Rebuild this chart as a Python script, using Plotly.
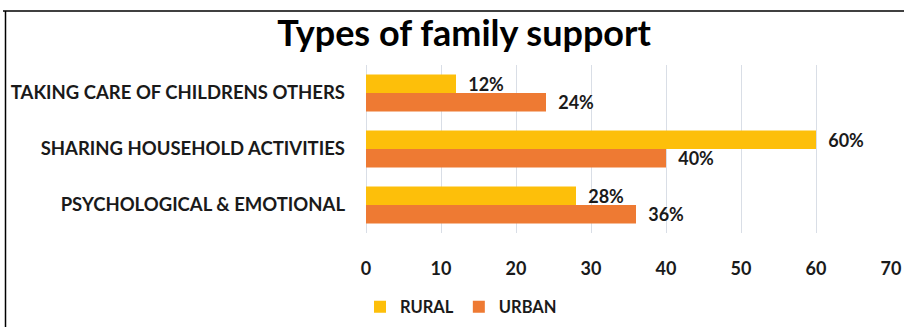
import plotly.graph_objects as go

categories = ["TAKING CARE OF CHILDRENS OTHERS", "SHARING HOUSEHOLD ACTIVITIES", "PSYCHOLOGICAL & EMOTIONAL"]
rural = [12, 60, 28]
urban = [24, 40, 36]
x_ticks = [0, 10, 20, 30, 40, 50, 60, 70]

FONT = "Lato"
W, H = 904, 327
L, R, T, B = 366, 13, 65, 94
pw, ph = W - L - R, H - T - B

def px_x(x):
    return (x - L) / pw

def px_y(y):
    return 1 - (y - T) / ph

label_font = dict(family=FONT, size=18, color="#1a1a1a")
pad = "\u00a0\u00a0"

fig = go.Figure()
fig.add_trace(go.Bar(
    y=categories, x=rural, name="<b>RURAL</b>", orientation="h",
    marker=dict(color="#FDBF0A", line=dict(width=0)),
    texttemplate=pad + "<b>%{x}%</b>", textposition="outside", constraintext="none",
    textfont=label_font, cliponaxis=False,
))
fig.add_trace(go.Bar(
    y=categories, x=urban, name="<b>URBAN</b>", orientation="h",
    marker=dict(color="#EE7A33", line=dict(width=0)),
    texttemplate=pad + "<b>%{x}%</b>", textposition="outside", constraintext="none",
    textfont=label_font, cliponaxis=False,
))

fig.update_layout(
    width=W, height=H,
    margin=dict(l=L, r=R, t=T, b=B, pad=0, autoexpand=False),
    paper_bgcolor="white", plot_bgcolor="white",
    barmode="group", bargap=0.34, bargroupgap=0,
    font=dict(family=FONT, color="#1a1a1a"),
    title=dict(text="<b>Types of family support</b>", xref="container", x=464 / W, xanchor="center",
               yref="container", y=1 - 33 / H, yanchor="middle",
               font=dict(family=FONT, size=36, color="black")),
    xaxis=dict(range=[0, 70], tickvals=x_ticks, ticktext=[f"<b>{v}</b>" for v in x_ticks],
               showgrid=True, gridcolor="#D9DEE6", gridwidth=1,
               zeroline=True, zerolinecolor="#D9DEE6", zerolinewidth=1,
               showline=False, ticks="", ticklabelstandoff=23,
               tickfont=dict(family=FONT, size=18, color="#1a1a1a"),
               fixedrange=True),
    yaxis=dict(autorange="reversed", ticks="", showgrid=False, showline=False,
               ticktext=[f"<b>{c}</b>" for c in categories], tickvals=categories,
               ticklabelstandoff=20,
               tickfont=dict(family=FONT, size=18.5, color="#1a1a1a")),
    showlegend=True,
    legend=dict(orientation="h", xref="container", x=360 / W, xanchor="left",
                yref="container", y=(H - 307) / H, yanchor="middle",
                font=dict(family=FONT, size=16.5, color="#1a1a1a"),
                itemwidth=30, tracegroupgap=0, bgcolor="rgba(0,0,0,0)"),
)

# frame lines (top and left of chart border)
fig.add_shape(type="line", xref="paper", yref="paper",
              x0=px_x(3), x1=px_x(904), y0=px_y(11), y1=px_y(11),
              line=dict(color="black", width=1.5))
fig.add_shape(type="line", xref="paper", yref="paper",
              x0=px_x(5.5), x1=px_x(5.5), y0=px_y(11), y1=px_y(330),
              line=dict(color="black", width=1.5))

fig.write_html("out.html")
